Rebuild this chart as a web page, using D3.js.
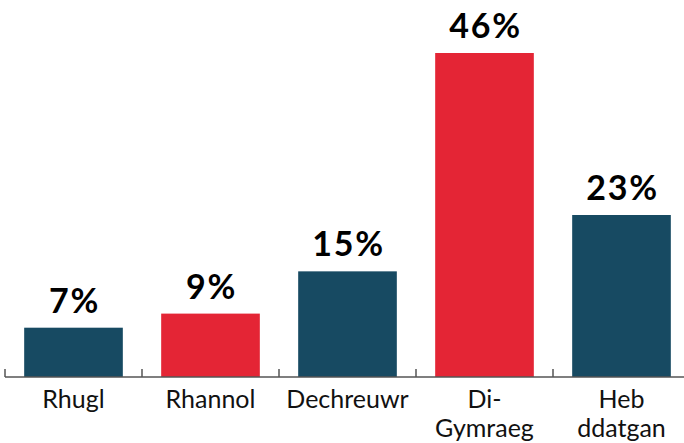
<!DOCTYPE html>
<html><head><meta charset="utf-8">
<script src="https://cdn.jsdelivr.net/npm/d3@7"></script>
<style>
html,body{margin:0;padding:0;background:#fff;}
svg{display:block;font-family:Lato,"Noto Sans",sans-serif;}
</style></head>
<body>
<svg id="c" width="684" height="443"></svg>
<script>
const categories = [["Rhugl"],["Rhannol"],["Dechreuwr"],["Di-","Gymraeg"],["Heb","ddatgan"]];
const values = [7, 9, 15, 46, 23];
const colors = ["#174a62","#e42535","#174a62","#e42535","#174a62"];
const valueLabels = ["7%","9%","15%","46%","23%"];

const svg = d3.select("#c");
const idx = d3.range(values.length);
const x = d3.scaleBand().domain(idx).range([5, 690]).paddingInner(0.28).paddingOuter(0.14);
const y = d3.scaleLinear().domain([0, 46]).range([377, 53]);

svg.selectAll("rect.bar").data(idx).join("rect")
  .attr("class","bar")
  .attr("x", i => x(i))
  .attr("width", x.bandwidth())
  .attr("y", i => y(values[i]))
  .attr("height", i => y(0) - y(values[i]))
  .attr("fill", i => colors[i]);

svg.selectAll("text.val").data(idx).join("text")
  .attr("class","val")
  .attr("x", i => x(i) + x.bandwidth()/2 + 1)
  .attr("y", i => y(values[i]) - 15)
  .attr("text-anchor","middle")
  .attr("font-size", 34)
  .attr("font-weight", 700)
  .attr("letter-spacing", 1.8)
  .attr("fill", "#000")
  .text(i => valueLabels[i]);

// axis
const step = x.step();
const g = svg.append("g");
g.append("line").attr("x1",5).attr("x2",684).attr("y1",377).attr("y2",377)
  .attr("stroke","#555").attr("stroke-width",1.5);
const tickX = d3.range(values.length+1).map(i => 5 + i*step);
g.selectAll("line.tick").data(tickX).join("line").attr("class","tick")
  .attr("x1", d=>d).attr("x2", d=>d).attr("y1",369).attr("y2",377)
  .attr("stroke","#555").attr("stroke-width",1.5);

const lab = svg.selectAll("text.cat").data(idx).join("text")
  .attr("class","cat")
  .attr("text-anchor","middle")
  .attr("font-size", 25)
  .attr("fill","#111");
lab.each(function(i){
  const t = d3.select(this);
  categories[i].forEach((s, k) => {
    t.append("tspan").attr("x", x(i)+x.bandwidth()/2).attr("y", 408 + k*29).text(s);
  });
});
</script>
</body></html>
